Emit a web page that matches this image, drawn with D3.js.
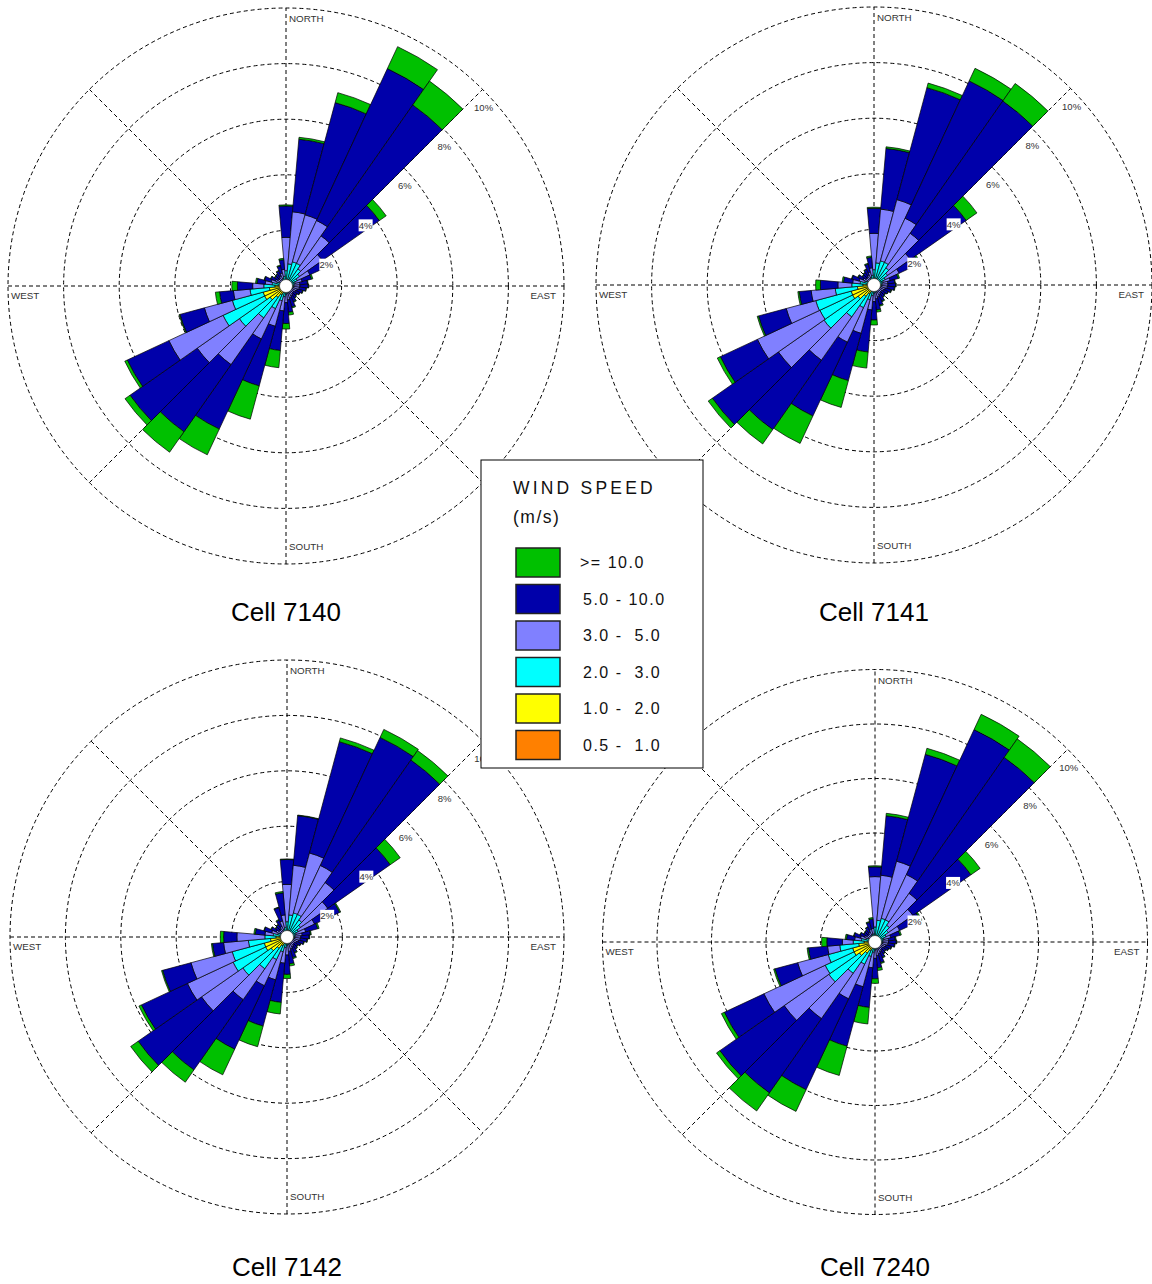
<!DOCTYPE html>
<html>
<head>
<meta charset="utf-8">
<script src="https://cdn.jsdelivr.net/npm/d3@7/dist/d3.min.js"></script>
<style>
  body { margin: 0; background: #ffffff; }
  svg { display: block; font-family: Arial, "Liberation Sans", sans-serif; }
</style>
</head>
<body>
<svg id="chart" width="1152" height="1284"></svg>
<script>
// Wind direction sectors (degrees, blowing from), 10° wide
const directions = [0, 10, 20, 30, 40, 50, 60, 70, 80, 90, 100, 110, 120, 130, 140, 150, 160, 170,
                    180, 190, 200, 210, 220, 230, 240, 250, 260, 270, 280, 290, 300, 310, 320, 330, 340, 350];

// Speed classes (m/s), innermost first
const speedClasses = ["0.5 -  1.0", "1.0 -  2.0", "2.0 -  3.0", "3.0 -  5.0", "5.0 - 10.0", ">= 10.0"];
const classColors  = ["#FF8000", "#FFFF00", "#00FFFF", "#8080FF", "#0000AA", "#00C000"];

// Frequency rings
const ringTicks  = [2, 4, 6, 8, 10];
const ringLabels = ["2%", "4%", "6%", "8%", "10%"];

// Frequency (%) per direction, one column per speed class
const cell7140 = [
  [.08,.12,.35,1.2,1.13,.04], [.08,.14,.58,1.88,2.62,.07], [.1,.15,.65,1.75,4.18,.37], [.1,.15,.65,1.7,6.03,.87],
  [.1,.12,.53,1.45,5.75,1.05], [.08,.12,.4,1.0,2.5,.3], [.07,.11,.27,.5,.55,.05], [.06,.11,.18,.25,.35,.05],
  [.05,.1,.15,.2,.28,.02], [.05,.09,.14,.22,.3,.02], [.05,.09,.14,.2,.24,.02], [.05,.08,.12,.17,.2,.02],
  [.04,.08,.1,.16,.17,.01], [.04,.07,.09,.13,.15,.02], [.04,.07,.09,.15,.17,.02], [.04,.08,.1,.18,.22,.03],
  [.05,.08,.12,.2,.33,.04], [.05,.09,.13,.23,.45,.1], [.05,.1,.15,.3,.75,.2], [.06,.12,.2,.52,1.43,.62],
  [.07,.18,.3,.95,2.22,1.24], [.08,.27,.55,1.2,3.58,1.02], [.1,.4,.9,2.05,2.95,.9], [.12,.58,1.35,1.85,2.95,.22],
  [.12,.73,1.65,2.15,1.65,.1], [.12,.73,1.15,1.04,.91,.03], [.1,.5,.7,.6,.5,.15], [.08,.32,.4,.4,.55,.2],
  [.07,.18,.25,.25,.3,.05], [.06,.12,.17,.2,.25,.02], [.05,.09,.13,.15,.18,.02], [.04,.08,.1,.13,.15,.02],
  [.04,.08,.1,.13,.17,.02], [.04,.08,.12,.16,.2,.02], [.05,.09,.14,.2,.27,.03], [.05,.12,.18,.25,.35,.05]
];

const cell7141 = [
  [.08,.12,.35,1.31,.9,.04], [.08,.14,.58,1.94,2.19,.06], [.1,.15,.65,2.28,4.17,.17], [.1,.15,.65,1.75,5.45,.5],
  [.1,.12,.53,1.52,5.81,.77], [.08,.12,.4,1.0,2.45,.47], [.07,.11,.27,.55,.8,.05], [.06,.11,.18,.25,.3,.05],
  [.05,.1,.15,.2,.25,.02], [.05,.09,.14,.22,.28,.02], [.05,.09,.14,.2,.26,.02], [.05,.08,.12,.17,.22,.02],
  [.04,.08,.1,.16,.18,.01], [.04,.07,.09,.14,.16,.02], [.04,.07,.09,.15,.18,.02], [.04,.08,.1,.18,.24,.03],
  [.05,.08,.12,.2,.3,.04], [.05,.09,.13,.23,.4,.08], [.05,.1,.15,.3,.66,.18], [.06,.12,.2,.52,1.52,.58],
  [.07,.18,.3,1.25,1.76,1.0], [.08,.27,.55,1.37,2.93,1.09], [.1,.4,.9,1.9,3.05,.63], [.12,.58,1.5,2.0,2.9,.18],
  [.12,.73,1.3,2.48,1.47,.12], [.12,.73,1.32,1.1,1.03,.05], [.1,.5,.8,.87,.43,.05], [.08,.32,.4,.5,.63,.17],
  [.07,.18,.25,.27,.33,.05], [.06,.12,.17,.2,.27,.02], [.05,.09,.13,.16,.2,.02], [.04,.08,.1,.13,.16,.02],
  [.04,.08,.1,.14,.18,.02], [.04,.08,.12,.16,.22,.02], [.05,.09,.14,.2,.3,.03], [.05,.12,.18,.27,.38,.05]
];

const cell7142 = [
  [.08,.12,.35,1.35,.9,.02], [.08,.14,.58,1.8,1.8,.02], [.1,.15,.65,2.24,4.16,.14], [.1,.15,.65,1.95,5.1,.32],
  [.1,.12,.53,1.65,5.4,.42], [.08,.12,.4,1.2,2.75,.44], [.07,.11,.27,.65,1.0,.04], [.06,.11,.18,.35,.45,.05],
  [.05,.1,.15,.25,.3,.03], [.05,.09,.14,.22,.3,.02], [.05,.09,.14,.2,.25,.02], [.05,.08,.12,.18,.2,.02],
  [.04,.08,.1,.16,.17,.01], [.04,.07,.09,.13,.15,.02], [.04,.07,.09,.15,.17,.02], [.04,.08,.1,.18,.22,.03],
  [.05,.08,.12,.2,.32,.04], [.05,.09,.13,.25,.45,.08], [.05,.1,.15,.35,.7,.15], [.06,.12,.2,.57,1.42,.42],
  [.07,.18,.3,1.05,1.73,.77], [.08,.27,.55,1.04,2.53,1.02], [.1,.4,.9,1.36,3.1,.54], [.12,.58,1.25,1.82,2.79,.33],
  [.12,.73,1.3,1.82,1.83,.1], [.12,.73,1.2,1.54,1.06,.04], [.1,.5,.8,.9,.4,.04], [.08,.32,.4,1.01,.48,.12],
  [.07,.18,.25,.3,.35,.05], [.06,.12,.17,.22,.28,.02], [.05,.09,.13,.16,.2,.02], [.04,.08,.1,.13,.16,.02],
  [.04,.08,.1,.14,.18,.02], [.04,.08,.12,.18,.25,.03], [.05,.1,.15,.3,.5,.02], [.05,.12,.18,.45,.8,.05]
];

const cell7240 = [
  [.08,.12,.35,1.85,.36,.04], [.08,.14,.58,1.66,2.19,.09], [.1,.15,.65,2.17,4.06,.23], [.1,.15,.65,1.83,5.87,.62],
  [.1,.12,.53,1.43,6.09,.83], [.08,.12,.4,1.1,2.6,.41], [.07,.11,.27,.55,.85,.05], [.06,.11,.18,.25,.35,.05],
  [.05,.1,.15,.2,.25,.03], [.05,.09,.14,.22,.28,.02], [.05,.09,.14,.2,.24,.02], [.05,.08,.12,.17,.2,.02],
  [.04,.08,.1,.16,.17,.01], [.04,.07,.09,.13,.15,.02], [.04,.07,.09,.15,.17,.02], [.04,.08,.1,.18,.22,.03],
  [.05,.08,.12,.2,.33,.04], [.05,.09,.13,.23,.45,.1], [.05,.1,.15,.3,.75,.17], [.06,.12,.2,.57,1.46,.61],
  [.07,.18,.3,1.15,2.26,1.11], [.08,.27,.55,1.4,3.68,.88], [.1,.4,.9,2.03,3.33,.81], [.12,.58,1.37,2.0,2.88,.15],
  [.12,.73,1.17,2.48,1.6,.12], [.12,.73,.93,1.16,.86,.05], [.1,.5,.7,.45,.7,.05], [.08,.32,.4,.4,.57,.19],
  [.07,.18,.25,.25,.3,.05], [.06,.12,.17,.2,.25,.02], [.05,.09,.13,.15,.18,.02], [.04,.08,.1,.13,.15,.02],
  [.04,.08,.1,.13,.17,.02], [.04,.08,.12,.16,.2,.02], [.05,.09,.14,.2,.27,.03], [.05,.1,.15,.2,.35,.05]
];

const cellNames = ["Cell 7140", "Cell 7141", "Cell 7142", "Cell 7240"];

// Placement of each rose on the page
const roses = [
  { name: cellNames[0], data: cell7140, cx: 286, cy: 286, R: 278,   titleY: 621 },
  { name: cellNames[1], data: cell7141, cx: 874, cy: 285, R: 278,   titleY: 621 },
  { name: cellNames[2], data: cell7142, cx: 287, cy: 937, R: 277,   titleY: 1276 },
  { name: cellNames[3], data: cell7240, cx: 875, cy: 942, R: 272.5, titleY: 1276 }
];

const svg = d3.select("#chart");
const rad = d => d * Math.PI / 180;
const halfSector = 5;
const holeRadius = 6.5;

function drawRose(rose) {
  const g = svg.append("g").attr("transform", `translate(${rose.cx},${rose.cy})`);
  const r = d3.scaleLinear().domain([0, 10]).range([0, rose.R]);
  const maxR = r(ringTicks[ringTicks.length - 1]);

  // Dashed grid: rings and compass spokes
  const grid = g.append("g").attr("fill", "none").attr("stroke", "#000")
    .attr("stroke-width", 1).attr("stroke-dasharray", "4,3");
  grid.selectAll("circle").data(ringTicks).join("circle").attr("r", d => r(d));
  grid.selectAll("line").data([0, 45, 90, 135]).join("line")
    .attr("x1", d => -maxR * Math.sin(rad(d))).attr("y1", d => maxR * Math.cos(rad(d)))
    .attr("x2", d => maxR * Math.sin(rad(d))).attr("y2", d => -maxR * Math.cos(rad(d)));

  // Stacked sector bars
  const stacked = rose.data.map((row, i) => {
    const cum = d3.cumsum(row);
    return row.map((v, k) => ({
      dir: directions[i], k,
      r0: k === 0 ? 0 : cum[k - 1], r1: cum[k]
    }));
  }).flat();

  const arc = d3.arc()
    .startAngle(d => rad(d.dir - halfSector))
    .endAngle(d => rad(d.dir + halfSector))
    .innerRadius(d => r(d.r0))
    .outerRadius(d => r(d.r1));

  g.append("g").selectAll("path").data(stacked).join("path")
    .attr("d", arc)
    .attr("fill", d => classColors[d.k])
    .attr("stroke", "#000")
    .attr("stroke-width", 0.7)
    .attr("stroke-linejoin", "miter");

  // Calm circle
  g.append("circle").attr("r", holeRadius).attr("fill", "#fff")
    .attr("stroke", "#222").attr("stroke-width", 0.6);

  // Ring labels along the north-east diagonal
  const lab = g.append("g").selectAll("g").data(ringTicks).join("g")
    .attr("transform", d => `translate(${r(d) * Math.SQRT1_2 + 1},${-r(d) * Math.SQRT1_2 + 18})`);
  lab.append("rect").attr("x", d => d >= 10 ? -10 : -7).attr("y", -6)
    .attr("width", d => d >= 10 ? 20 : 14).attr("height", 12).attr("fill", "#fff");
  lab.append("text").attr("text-anchor", "middle").attr("dy", "0.35em")
    .attr("font-size", 9.5).attr("fill", "#333")
    .text((d, i) => ringLabels[i]);

  // Compass labels
  const cl = g.append("g").attr("font-size", 9.8).attr("fill", "#333");
  cl.append("text").attr("x", 3).attr("y", -maxR + 14).text("NORTH");
  cl.append("text").attr("x", 3).attr("y", maxR - 14).text("SOUTH");
  cl.append("text").attr("x", -maxR + 3).attr("y", 12.5).text("WEST");
  cl.append("text").attr("x", maxR - 8).attr("y", 12.5).attr("text-anchor", "end").text("EAST");

  // Title under the rose
  svg.append("text").attr("x", rose.cx).attr("y", rose.titleY)
    .attr("text-anchor", "middle").attr("font-size", 26).attr("fill", "#000")
    .text(rose.name);
}

roses.forEach(drawRose);

// Legend
const legend = svg.append("g").attr("transform", "translate(481,460)");
legend.append("rect").attr("x", 0).attr("y", 0).attr("width", 222).attr("height", 308)
  .attr("fill", "#fff").attr("stroke", "#000").attr("stroke-width", 1);
legend.append("text").attr("x", 32).attr("y", 34).attr("font-size", 17.5)
  .attr("letter-spacing", 3.2).attr("fill", "#111").text("WIND SPEED");
legend.append("text").attr("x", 32).attr("y", 63).attr("font-size", 17.5)
  .attr("letter-spacing", 1.5).attr("fill", "#111").text("(m/s)");

const legendOrder = d3.reverse(speedClasses.map((s, k) => k));
const item = legend.selectAll("g.item").data(legendOrder).join("g")
  .attr("class", "item")
  .attr("transform", (k, i) => `translate(35,${88 + i * 36.5})`);
item.append("rect").attr("width", 44).attr("height", 29)
  .attr("fill", k => classColors[k]).attr("stroke", "#222").attr("stroke-width", 1.5);
item.append("text").attr("x", k => k === 5 ? 64 : 67).attr("y", 20)
  .attr("font-size", 16).attr("letter-spacing", 1.5).attr("fill", "#111")
  .style("white-space", "pre")
  .text(k => speedClasses[k]);
</script>
</body>
</html>
